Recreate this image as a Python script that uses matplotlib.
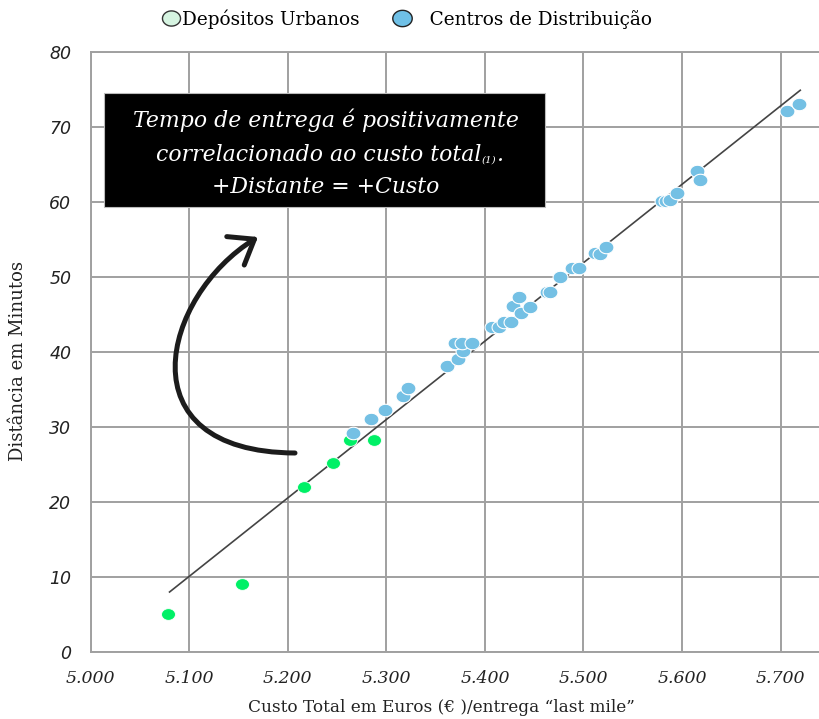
import numpy as np
import matplotlib
matplotlib.use("Agg")
import matplotlib.pyplot as plt
from matplotlib.path import Path
from matplotlib.patches import Rectangle, FancyArrowPatch
from matplotlib.lines import Line2D
from matplotlib.markers import MarkerStyle

# ---------------- data ----------------
urb_cost = [5078, 5154, 5216, 5246, 5263, 5287]
urb_time = [5.1, 9.1, 22.0, 25.2, 28.3, 28.3]

cd_cost = [5266, 5284, 5299, 5317, 5322, 5362, 5373, 5378, 5370, 5377, 5387,
           5407, 5414, 5419, 5426, 5429, 5435, 5437, 5446, 5463, 5466, 5476,
           5488, 5495, 5512, 5517, 5523, 5580, 5584, 5588, 5595, 5615, 5618,
           5707, 5719]
cd_time = [29.2, 31.1, 32.3, 34.1, 35.2, 38.2, 39.1, 40.1, 41.2, 41.2, 41.2,
           43.3, 43.3, 44.0, 44.0, 46.1, 47.3, 45.2, 46.0, 48.0, 48.0, 50.0,
           51.2, 51.2, 53.2, 53.1, 54.0, 60.1, 60.1, 60.3, 61.2, 64.2, 63.0,
           72.1, 73.1]

trend_cost = [5080, 5720]
trend_time = [8.0, 74.9]

x_ticks = [5000, 5100, 5200, 5300, 5400, 5500, 5600, 5700]
x_ticklabels = ["5.000", "5.100", "5.200", "5.300", "5.400", "5.500", "5.600", "5.700"]
y_ticks = [0, 10, 20, 30, 40, 50, 60, 70, 80]
y_ticklabels = ["0", "10", "20", "30", "40", "50", "60", "70", "80"]

series_names = ["Depósitos Urbanos", "Centros de Distribuição"]
box_lines = ["Tempo de entrega é positivamente", "correlacionado ao custo total", "+Distante = +Custo"]
x_label = "Custo Total em Euros (€ )/entrega “last mile”"
y_label = "Distância em Minutos"

# ---------------- figure ----------------
W, H = 819, 719
fig = plt.figure(figsize=(W / 100, H / 100), dpi=100)
L, T, B, R = 90.7, 52.0, 652.0, 819.0
ax = fig.add_axes([L / W, 1 - B / H, (R - L) / W, (B - T) / H])
ax.set_xlim(5000, 5739)
ax.set_ylim(0, 80)

grid_c = "#a0a0a0"
ax.set_xticks(x_ticks)
ax.set_yticks(y_ticks)
ax.grid(True, color=grid_c, lw=1.4)
ax.set_axisbelow(True)
for s in ["left", "top", "bottom"]:
    ax.spines[s].set_color(grid_c)
    ax.spines[s].set_linewidth(1.4)
ax.spines["right"].set_visible(False)
ax.tick_params(length=0)
ax.set_xticklabels(x_ticklabels, fontfamily="DejaVu Serif", fontstyle="italic",
                   fontsize=12.5, color="#222222")
ax.set_yticklabels(y_ticklabels, fontfamily="DejaVu Sans", fontstyle="italic",
                   fontsize=12.5, color="#222222")
ax.tick_params(axis="x", pad=13)
ax.tick_params(axis="y", pad=14)

# ellipse marker
th = np.linspace(0, 2 * np.pi, 64)
ell = Path(np.c_[np.cos(th), 0.84 * np.sin(th)], closed=True)
ell_m = MarkerStyle(ell)

ax.plot(trend_cost, trend_time, color="#444444", lw=1.2, zorder=2)
ax.scatter(urb_cost, urb_time, s=100, marker=ell_m, color="#00F066",
           edgecolors="white", linewidths=0.6, zorder=3)
ax.scatter(cd_cost, cd_time, s=115, marker=ell_m, color="#74C0E4",
           edgecolors="white", linewidths=0.8, zorder=3)

# helper: pixel -> data
def p2d(px, py):
    x = 5000 + (px - L) / (R - L) * 739
    y = (B - py) / (B - T) * 80
    return (x, y)

def p2a(px, py):
    return ((px - L) / (R - L), (B - py) / (B - T))

# black annotation box
x0, y0 = p2a(104, 207)
x1, y1 = p2a(545, 93)
ax.add_patch(Rectangle((x0, y0), x1 - x0, y1 - y0, transform=ax.transAxes,
                       facecolor="black", edgecolor="#bbbbbb", lw=0.8, zorder=5))

fs_box = 15.8
cx = p2a(326, 0)[0]
tk = dict(transform=ax.transAxes, color="white", fontfamily="DejaVu Serif",
          fontstyle="italic", fontsize=fs_box, zorder=6, va="baseline")
ax.text(cx, p2a(0, 127)[1], box_lines[0], ha="center", **tk)
ax.text(cx, p2a(0, 193)[1], box_lines[2], ha="center", **tk)

# line 2 with small "(1)"
fig.canvas.draw()
rend = fig.canvas.get_renderer()
t_main = ax.text(0, 0, box_lines[1], ha="left", **tk)
t_sub = ax.text(0, 0, "(1)", ha="left", **{**tk, "fontsize": 7.5})
t_dot = ax.text(0, 0, ".", ha="left", **tk)
wm = t_main.get_window_extent(rend).width
ws = t_sub.get_window_extent(rend).width
wd = t_dot.get_window_extent(rend).width
ax_w = ax.get_window_extent(rend).width
total = (wm + ws + wd) / ax_w
start = p2a(330, 0)[0] - total / 2
base2 = p2a(0, 161)[1]
t_main.set_position((start, base2))
t_sub.set_position((start + wm / ax_w, base2 - 0.002))
t_dot.set_position((start + (wm + ws) / ax_w, base2))

# curved arrow
verts = [p2d(295, 453), p2d(122, 452), p2d(162, 296), p2d(258, 237)]
arrow_path = Path(verts, [Path.MOVETO, Path.CURVE4, Path.CURVE4, Path.CURVE4])
arr = FancyArrowPatch(path=arrow_path, arrowstyle="->,head_length=0.8,head_width=0.6",
                      mutation_scale=20, lw=3.6, color="#1c1c1c", zorder=4,
                      capstyle="round", joinstyle="round")
ax.add_patch(arr)

# axis labels
fig.text(441 / W, 1 - 708 / H, x_label, ha="center", va="center",
         fontfamily="DejaVu Serif", fontsize=12.2, color="#222222")
fig.text(18 / W, 1 - 361 / H, y_label, ha="center", va="center", rotation=90,
         fontfamily="DejaVu Serif", fontsize=13, color="#222222")

# legend
h1 = Line2D([], [], ls="none", marker=ell_m, markersize=13,
            markerfacecolor="#D6F4E1", markeredgecolor="#333333", markeredgewidth=1.0)
h2 = Line2D([], [], ls="none", marker=ell_m, markersize=14,
            markerfacecolor="#6FC0E6", markeredgecolor="#222222", markeredgewidth=1.0)
fig.legend([h1, h2], [series_names[0], "   " + series_names[1]], loc="center",
           bbox_to_anchor=(407 / W, 1 - 19 / H),
           ncol=2, frameon=False, handletextpad=0.05, columnspacing=1.8,
           handlelength=1.0, prop=dict(family="DejaVu Serif", size=13.3))

fig.savefig("out.png", dpi=100)
